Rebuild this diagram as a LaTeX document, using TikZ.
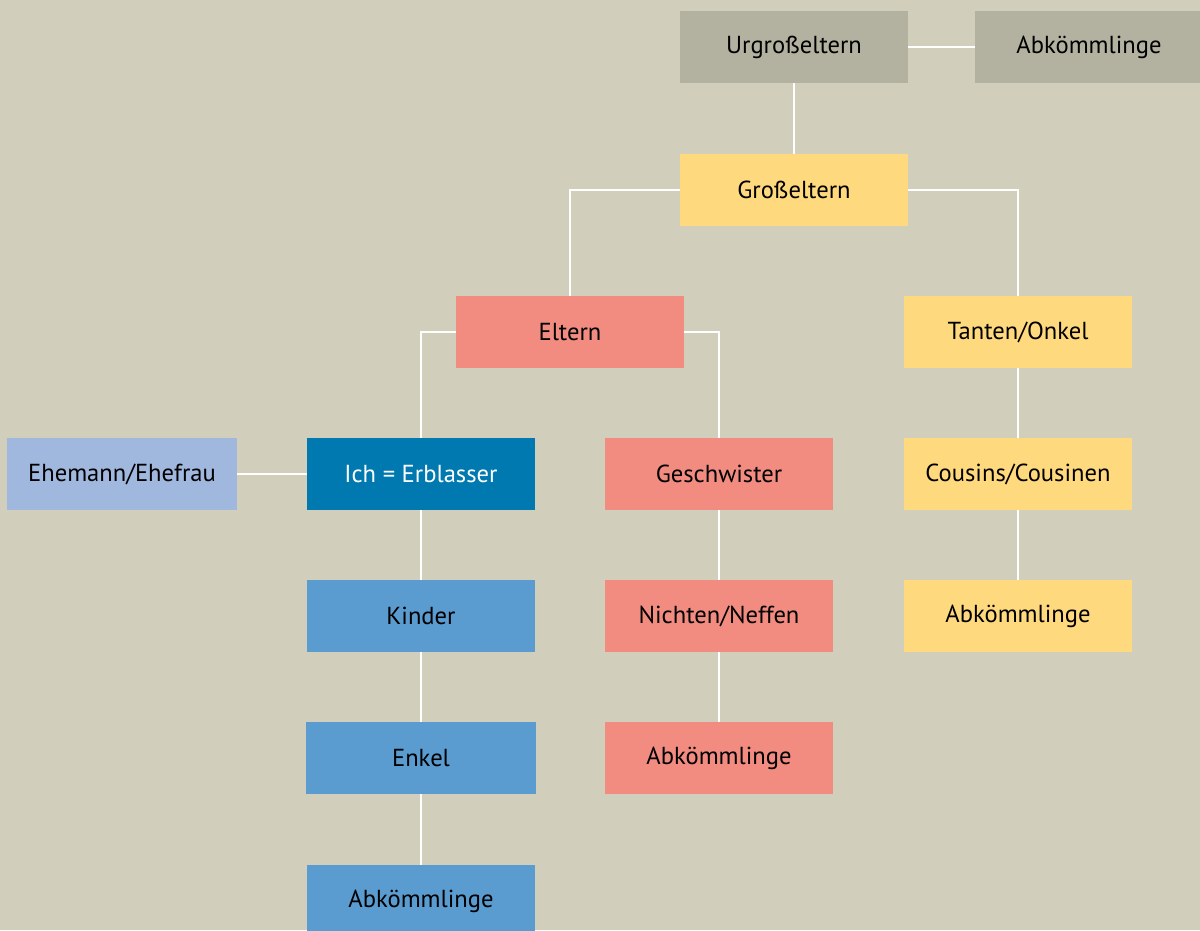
\documentclass[tikz,border=0pt]{standalone}
\usepackage{fontspec}
\setmainfont{PT Sans}
\definecolor{bg}{HTML}{D1CFBC}
\definecolor{urgrau}{HTML}{B3B2A0}
\definecolor{gelb}{HTML}{FFD97D}
\definecolor{rot}{HTML}{F28B80}
\definecolor{dunkelblau}{HTML}{0079B0}
\definecolor{blau}{HTML}{5A9BD0}
\definecolor{hellblau}{HTML}{A0B8DE}
\tikzset{
  box/.style={minimum width=4.56cm,minimum height=1.44cm,inner sep=0pt,font=\fontsize{14}{16}\selectfont},
  link/.style={white,line width=1.4pt}
}
\begin{document}
\begin{tikzpicture}[x=0.02cm,y=-0.02cm]
      \useasboundingbox (0,0) rectangle (1200,930);
      \clip (0,0) rectangle (1200,930);
      \fill[bg] (0,0) rectangle (1200,930);
      \node[box,fill=urgrau] (urgross) at (794,47) {Urgroßeltern};
      \node[box,fill=urgrau] (abk1) at (1089,47) {Abkömmlinge};
      \node[box,fill=gelb] (gross) at (794,190) {Großeltern};
      \node[box,fill=rot] (eltern) at (570,332) {Eltern};
      \node[box,fill=gelb] (tanten) at (1018,332) {Tanten/Onkel};
      \node[box,fill=hellblau,minimum width=4.6cm] (ehe) at (122,474) {Ehemann/Ehefrau};
      \node[box,fill=dunkelblau,text=white] (ich) at (421,474) {Ich = Erblasser};
      \node[box,fill=rot] (geschw) at (719,474) {Geschwister};
      \node[box,fill=gelb] (cousins) at (1018,474) {Cousins/Cousinen};
      \node[box,fill=blau] (kinder) at (421,616) {Kinder};
      \node[box,fill=rot] (nichten) at (719,616) {Nichten/Neffen};
      \node[box,fill=gelb] (abk2) at (1018,616) {Abkömmlinge};
      \node[box,fill=blau,minimum width=4.6cm] (enkel) at (421,758) {Enkel};
      \node[box,fill=rot] (abk3) at (719,758) {Abkömmlinge};
      \node[box,fill=blau] (abk4) at (421,901) {Abkömmlinge};
      \draw[link] (urgross) -- (abk1);
      \draw[link] (urgross) -- (gross);
      \draw[link] (gross.west) -| (eltern.north);
      \draw[link] (gross.east) -| (tanten.north);
      \draw[link] (eltern.west) -| (ich.north);
      \draw[link] (eltern.east) -| (geschw.north);
      \draw[link] (ehe) -- (ich);
      \draw[link] (ich) -- (kinder);
      \draw[link] (kinder) -- (enkel);
      \draw[link] (enkel) -- (abk4);
      \draw[link] (geschw) -- (nichten);
      \draw[link] (nichten) -- (abk3);
      \draw[link] (tanten) -- (cousins);
      \draw[link] (cousins) -- (abk2);
    \end{tikzpicture}
\end{document}
